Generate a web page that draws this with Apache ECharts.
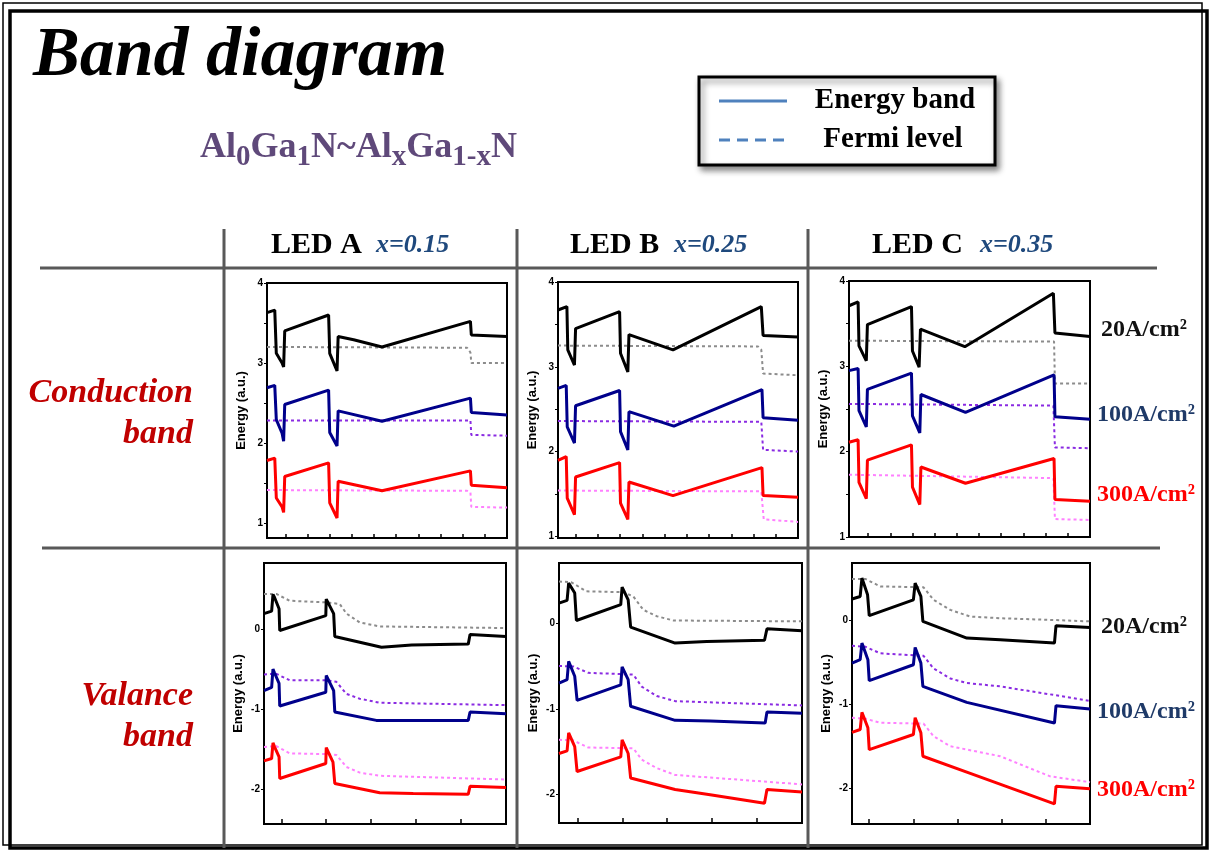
<!DOCTYPE html>
<html>
<head>
<meta charset="utf-8">
<script src="https://cdn.jsdelivr.net/npm/echarts@6/dist/echarts.min.js"></script>
<style>
html,body{margin:0;padding:0;background:#fff;}
#chart{width:1214px;height:850px;}
</style>
</head>
<body>
<div id="chart"></div>
<script>
// ---- labels ----
const ledNames = ['LED A', 'LED B', 'LED C'];
const compositions = ['x=0.15', 'x=0.25', 'x=0.35'];
const currents = ['20A/cm²', '100A/cm²', '300A/cm²'];
const bandRows = [['Conduction', 'band'], ['Valance', 'band']];
const legendNames = ['Energy band', 'Fermi level'];
const alloyParts = [['Al', 0], ['0', 1], ['Ga', 0], ['1', 1], ['N~Al', 0], ['x', 1], ['Ga', 0], ['1-x', 1], ['N', 0]];
const cbTickLabels = [1, 2, 3, 4];
const cbTicks = [1, 1.5, 2, 2.5, 3, 3.5, 4];
const vbTickLabels = [-2, -1, 0];
const vbTicks = [-2, -1, 0];
const xTicksCb = [0, 1, 2, 3, 4, 5, 6, 7, 8, 9, 10];
const xTicksVb = [0, 2, 4, 6, 8, 10];

// ---- conduction band, LED A (position, energy) ----
const ledA_cb_20 = [[-0.83,3.63],[-0.48,3.66],[-0.41,3.12],[-0.15,3.0],[-0.08,2.95],[-0.03,3.40],[1.95,3.60],[2.0,3.12],[2.33,2.90],[2.38,3.33],[3.08,3.29],[4.36,3.20],[8.35,3.52],[8.39,3.35],[10,3.33]];
const ledA_cb_100 = [[-0.83,2.69],[-0.48,2.72],[-0.41,2.29],[-0.15,2.12],[-0.08,2.02],[-0.03,2.48],[1.95,2.66],[2.0,2.13],[2.33,1.96],[2.38,2.40],[4.36,2.27],[8.35,2.56],[8.39,2.38],[10,2.35]];
const ledA_cb_300 = [[-0.83,1.78],[-0.48,1.81],[-0.41,1.31],[-0.15,1.20],[-0.08,1.13],[-0.03,1.58],[1.95,1.75],[2.0,1.25],[2.33,1.06],[2.38,1.52],[4.36,1.40],[8.35,1.65],[8.39,1.47],[10,1.44]];
const ledA_cbF_20 = [[-0.83,3.20],[8.2,3.19],[8.35,3.13],[8.39,3.00],[10,3.00]];
const ledA_cbF_100 = [[-0.83,2.28],[8.35,2.28],[8.39,2.10],[10,2.09]];
const ledA_cbF_300 = [[-0.83,1.41],[8.2,1.40],[8.35,1.38],[8.39,1.20],[10,1.19]];

// ---- conduction band, LED B ----
const ledB_cb_20 = [[-0.79,3.67],[-0.39,3.71],[-0.35,3.20],[-0.05,3.02],[0,3.45],[1.98,3.65],[2.02,3.16],[2.35,2.94],[2.40,3.38],[4.38,3.20],[8.35,3.71],[8.43,3.37],[10,3.35]];
const ledB_cb_100 = [[-0.79,2.745],[-0.42,2.78],[-0.375,2.29],[-0.05,2.10],[0,2.54],[1.98,2.72],[2.02,2.235],[2.35,2.02],[2.40,2.47],[4.42,2.30],[8.38,2.73],[8.43,2.40],[10,2.37]];
const ledB_cb_300 = [[-0.79,1.895],[-0.42,1.94],[-0.375,1.45],[-0.05,1.255],[0,1.70],[1.98,1.87],[2.02,1.39],[2.35,1.20],[2.40,1.64],[4.38,1.48],[8.38,1.81],[8.43,1.48],[10,1.46]];
const ledB_cbF_20 = [[-0.79,3.25],[8.2,3.24],[8.35,3.20],[8.43,2.92],[10,2.90]];
const ledB_cbF_100 = [[-0.79,2.36],[8.35,2.35],[8.43,2.02],[10,2.00]];
const ledB_cbF_300 = [[-0.79,1.54],[8.35,1.53],[8.46,1.20],[10,1.17]];

// ---- conduction band, LED C ----
const ledC_cb_20 = [[-0.86,3.71],[-0.45,3.755],[-0.41,3.24],[-0.08,3.065],[-0.03,3.49],[1.955,3.70],[2.0,3.18],[2.30,2.99],[2.36,3.435],[4.36,3.23],[8.35,3.856],[8.42,3.39],[10,3.35]];
const ledC_cb_100 = [[-0.86,2.95],[-0.45,2.975],[-0.41,2.48],[-0.08,2.29],[-0.03,2.73],[1.955,2.92],[2.0,2.42],[2.33,2.22],[2.38,2.67],[4.39,2.46],[8.38,2.90],[8.42,2.41],[10,2.38]];
const ledC_cb_300 = [[-0.86,2.11],[-0.45,2.14],[-0.41,1.64],[-0.08,1.45],[-0.03,1.90],[1.955,2.08],[2.0,1.585],[2.33,1.38],[2.38,1.82],[4.39,1.63],[8.38,1.92],[8.42,1.44],[10,1.42]];
const ledC_cbF_20 = [[-0.86,3.30],[8.38,3.29],[8.42,2.80],[10,2.80]];
const ledC_cbF_100 = [[-0.86,2.56],[8.35,2.54],[8.42,2.05],[10,2.04]];
const ledC_cbF_300 = [[-0.86,1.73],[8.35,1.69],[8.42,1.21],[10,1.20]];

// ---- valence band, LED A ----
const ledA_vb_20 = [[-0.77,0.19],[-0.43,0.22],[-0.37,0.43],[-0.30,0.39],[-0.10,0.25],[-0.07,-0.02],[1.98,0.165],[2.0,0.37],[2.33,0.19],[2.38,-0.095],[4.46,-0.23],[5.80,-0.20],[8.32,-0.19],[8.40,-0.07],[10,-0.095]];
const ledA_vb_100 = [[-0.77,-0.77],[-0.43,-0.73],[-0.37,-0.50],[-0.30,-0.55],[-0.10,-0.68],[-0.07,-0.96],[1.98,-0.79],[2.0,-0.58],[2.33,-0.77],[2.38,-1.035],[4.23,-1.14],[5.87,-1.14],[8.32,-1.14],[8.40,-1.035],[10,-1.056]];
const ledA_vb_300 = [[-0.77,-1.644],[-0.43,-1.615],[-0.37,-1.42],[-0.30,-1.47],[-0.10,-1.594],[-0.07,-1.863],[1.98,-1.677],[2.0,-1.478],[2.30,-1.66],[2.38,-1.925],[4.38,-2.04],[5.87,-2.05],[8.32,-2.06],[8.40,-1.96],[10,-1.975]];
const ledA_vbF_20 = [[-0.77,0.435],[-0.22,0.435],[0.37,0.35],[2.0,0.33],[2.6,0.31],[2.9,0.19],[3.49,0.08],[4.38,0.03],[10,0.01]];
const ledA_vbF_100 = [[-0.77,-0.567],[-0.22,-0.56],[0.37,-0.64],[2.0,-0.64],[2.45,-0.66],[2.9,-0.81],[3.49,-0.87],[4.38,-0.92],[10,-0.95]];
const ledA_vbF_300 = [[-0.77,-1.47],[-0.22,-1.46],[0.37,-1.55],[2.0,-1.56],[2.45,-1.57],[2.9,-1.72],[3.49,-1.79],[4.38,-1.83],[10,-1.876]];

// ---- valence band, LED B ----
const ledB_vb_20 = [[-0.82,0.233],[-0.46,0.264],[-0.39,0.466],[-0.12,0.35],[-0.045,0.03],[0.03,0.02],[1.93,0.214],[1.99,0.42],[2.26,0.27],[2.37,-0.047],[4.35,-0.233],[5.76,-0.214],[8.33,-0.20],[8.44,-0.066],[10,-0.09]];
const ledB_vb_100 = [[-0.82,-0.70],[-0.46,-0.66],[-0.39,-0.447],[-0.12,-0.62],[-0.015,-0.90],[1.93,-0.72],[1.99,-0.51],[2.26,-0.66],[2.37,-0.97],[4.35,-1.134],[5.91,-1.14],[8.36,-1.165],[8.44,-1.037],[10,-1.05]];
const ledB_vb_300 = [[-0.82,-1.52],[-0.46,-1.49],[-0.39,-1.28],[-0.12,-1.44],[-0.015,-1.73],[1.93,-1.56],[1.99,-1.36],[2.26,-1.52],[2.37,-1.806],[4.35,-1.94],[5.91,-2.0],[8.33,-2.10],[8.44,-1.94],[10,-1.97]];
const ledB_vbF_20 = [[-0.82,0.485],[-0.27,0.475],[0.40,0.37],[2.04,0.36],[2.49,0.31],[2.93,0.155],[3.53,0.08],[4.27,0.03],[10,0.02]];
const ledB_vbF_100 = [[-0.82,-0.50],[-0.19,-0.505],[0.48,-0.58],[2.49,-0.60],[2.86,-0.74],[3.53,-0.85],[4.35,-0.91],[10,-0.96]];
const ledB_vbF_300 = [[-0.82,-1.36],[-0.19,-1.367],[0.48,-1.45],[2.49,-1.46],[2.86,-1.59],[3.53,-1.69],[4.35,-1.77],[10,-1.88]];

// ---- valence band, LED C ----
const ledC_vb_20 = [[-0.78,0.26],[-0.41,0.29],[-0.33,0.51],[-0.075,0.31],[0,0.06],[2.0,0.25],[2.08,0.45],[2.34,0.29],[2.43,-0.008],[4.42,-0.207],[5.93,-0.227],[8.39,-0.267],[8.46,-0.06],[10,-0.08]];
const ledC_vb_100 = [[-0.78,-0.506],[-0.41,-0.466],[-0.33,-0.267],[-0.06,-0.466],[0,-0.717],[2.0,-0.526],[2.08,-0.319],[2.34,-0.506],[2.43,-0.785],[4.42,-0.976],[8.39,-1.223],[8.46,-1.016],[10,-1.056]];
const ledC_vb_300 = [[-0.78,-1.335],[-0.41,-1.30],[-0.33,-1.096],[-0.06,-1.28],[0,-1.54],[2.0,-1.36],[2.08,-1.16],[2.34,-1.34],[2.43,-1.62],[4.42,-1.81],[8.39,-2.19],[8.46,-1.98],[10,-2.01]];
const ledC_vbF_20 = [[-0.78,0.50],[-0.18,0.50],[0.50,0.41],[2.46,0.40],[2.91,0.25],[3.67,0.13],[4.57,0.05],[5.93,0.03],[8.19,0.01],[10,-0.008]];
const ledC_vbF_100 = [[-0.78,-0.30],[-0.18,-0.31],[0.50,-0.39],[2.46,-0.42],[2.91,-0.57],[3.67,-0.69],[4.42,-0.745],[5.93,-0.785],[8.19,-0.88],[10,-0.96]];
const ledC_vbF_300 = [[-0.78,-1.16],[-0.18,-1.17],[0.50,-1.22],[2.46,-1.23],[2.91,-1.38],[3.67,-1.50],[4.42,-1.54],[5.93,-1.62],[8.19,-1.86],[10,-1.93]];

// ---- panel layout: one grid per LED and band ----
const panels = [
  {box: [267, 283, 240, 255], xMin: -0.83, yMin: 0.81, yMax: 4, cb: true,
   bands: [ledA_cb_20, ledA_cb_100, ledA_cb_300], fermi: [ledA_cbF_20, ledA_cbF_100, ledA_cbF_300]},
  {box: [558, 282, 240, 256], xMin: -0.79, yMin: 0.98, yMax: 4, cb: true,
   bands: [ledB_cb_20, ledB_cb_100, ledB_cb_300], fermi: [ledB_cbF_20, ledB_cbF_100, ledB_cbF_300]},
  {box: [849, 281, 241, 256], xMin: -0.86, yMin: 1, yMax: 4, cb: true,
   bands: [ledC_cb_20, ledC_cb_100, ledC_cb_300], fermi: [ledC_cbF_20, ledC_cbF_100, ledC_cbF_300]},
  {box: [264, 563, 242, 261], xMin: -0.77, yMin: -2.43, yMax: 0.82, cb: false,
   bands: [ledA_vb_20, ledA_vb_100, ledA_vb_300], fermi: [ledA_vbF_20, ledA_vbF_100, ledA_vbF_300]},
  {box: [559, 563, 243, 260], xMin: -0.82, yMin: -2.33, yMax: 0.70, cb: false,
   bands: [ledB_vb_20, ledB_vb_100, ledB_vb_300], fermi: [ledB_vbF_20, ledB_vbF_100, ledB_vbF_300]},
  {box: [852, 563, 238, 261], xMin: -0.78, yMin: -2.43, yMax: 0.69, cb: false,
   bands: [ledC_vb_20, ledC_vb_100, ledC_vb_300], fermi: [ledC_vbF_20, ledC_vbF_100, ledC_vbF_300]}
];

const bandColors = ['#000000', '#00008B', '#FF0000'];
const fermiColors = ['#8C8C8C', '#8A2BE2', '#FF80FF'];
const labelColors = ['#111111', '#1F3A68', '#FF0000'];
const SERIF = '"Liberation Serif", "Times New Roman", serif';
const SANS = '"Liberation Sans", Arial, sans-serif';

const grids = [], xAxes = [], yAxes = [], series = [];
panels.forEach((p, i) => {
  grids.push({
    left: p.box[0], top: p.box[1], width: p.box[2], height: p.box[3],
    show: true, borderColor: '#000', borderWidth: 2, backgroundColor: 'transparent'
  });
  xAxes.push({
    type: 'value', gridIndex: i, min: p.xMin, max: 10,
    axisLine: {show: true, onZero: false, lineStyle: {color: '#000', width: 2}},
    axisTick: {show: true, inside: true, length: p.cb ? 4 : 5,
               customValues: p.cb ? xTicksCb : xTicksVb,
               lineStyle: {color: '#000', width: 1.5}},
    axisLabel: {show: false},
    splitLine: {show: false}
  });
  yAxes.push({
    type: 'value', gridIndex: i, min: p.yMin, max: p.yMax,
    name: 'Energy (a.u.)', nameLocation: 'middle', nameGap: 19,
    nameTextStyle: {fontFamily: SANS, fontWeight: 'bold', fontSize: 13, color: '#000'},
    axisLine: {show: true, onZero: false, lineStyle: {color: '#000', width: 2}},
    axisTick: {show: true, length: 3, customValues: p.cb ? cbTicks : vbTicks,
               lineStyle: {color: '#000', width: 1}},
    axisLabel: {fontFamily: SANS, fontWeight: 'bold', fontSize: 10, color: '#000', margin: 4,
                customValues: p.cb ? cbTickLabels : vbTickLabels},
    splitLine: {show: false}
  });
  p.fermi.forEach((d, k) => series.push({
    type: 'line', xAxisIndex: i, yAxisIndex: i, data: d, showSymbol: false, z: 2,
    lineStyle: {color: fermiColors[k], width: 2, type: [3, 3]}
  }));
  p.bands.forEach((d, k) => series.push({
    type: 'line', xAxisIndex: i, yAxisIndex: i, data: d, showSymbol: false, z: 3,
    lineStyle: {color: bandColors[k], width: 3}
  }));
});

// ---- slide decoration: frame, table rules, titles, legend ----
const gfx = [];
gfx.push({type: 'rect', shape: {x: 3, y: 3, width: 1199, height: 842},
          style: {fill: 'none', stroke: '#000', lineWidth: 1.5}, z: 0});
gfx.push({type: 'rect', shape: {x: 10, y: 11, width: 1197, height: 837},
          style: {fill: 'none', stroke: '#000', lineWidth: 3.5}, z: 0});

const rule = {stroke: '#595959', lineWidth: 3};
gfx.push({type: 'line', shape: {x1: 40, y1: 268, x2: 1157, y2: 268}, style: rule});
gfx.push({type: 'line', shape: {x1: 42, y1: 548, x2: 1160, y2: 548}, style: rule});
[224, 517, 808].forEach(x => gfx.push({type: 'line', shape: {x1: x, y1: 229, x2: x, y2: 848}, style: rule}));

gfx.push({type: 'text', style: {text: 'Band diagram', x: 33, y: 57, textVerticalAlign: 'middle',
          font: 'italic bold 70px ' + SERIF, fill: '#000'}});

// alloy formula with subscripts, laid out piece by piece
const mainFont = 'bold 36px ' + SERIF;
const subFont = 'bold 29px ' + SERIF;
const measure = document.createElement('canvas').getContext('2d');
let penX = 200;
alloyParts.forEach(([txt, isSub]) => {
  const font = isSub ? subFont : mainFont;
  measure.font = font;
  gfx.push({type: 'text', style: {text: txt, x: penX, y: isSub ? 158 : 148,
            textVerticalAlign: 'middle', font: font, fill: '#5F497A'}});
  penX += measure.measureText(txt).width;
});

// column headers
const headX = [[271, 376], [570, 674], [872, 980]];
ledNames.forEach((n, i) => {
  gfx.push({type: 'text', style: {text: n, x: headX[i][0], y: 245, textVerticalAlign: 'middle',
            font: 'bold 30px ' + SERIF, fill: '#000'}});
  gfx.push({type: 'text', style: {text: compositions[i], x: headX[i][1], y: 245, textVerticalAlign: 'middle',
            font: 'italic bold 26px ' + SERIF, fill: '#1F497D'}});
});

// row headers
const rowY = [[393, 434], [696, 737]];
bandRows.forEach((r, i) => {
  r.forEach((t, j) => gfx.push({type: 'text', style: {text: t, x: 193, y: rowY[i][j],
    textAlign: 'right', textVerticalAlign: 'middle', font: 'italic bold 34px ' + SERIF, fill: '#C00000'}}));
});

// current-density labels
const curY = [[330, 415, 495], [627, 712, 790]];
curY.forEach(ys => ys.forEach((y, k) => gfx.push({type: 'text', style: {
  text: currents[k], x: k === 0 ? 1101 : 1097, y: y, textVerticalAlign: 'middle',
  font: 'bold 24px ' + SERIF, fill: labelColors[k]}})));

// legend
gfx.push({type: 'rect', shape: {x: 699, y: 77, width: 296, height: 88},
          style: {fill: '#fff', stroke: '#000', lineWidth: 3,
                  shadowBlur: 6, shadowColor: 'rgba(0,0,0,0.45)', shadowOffsetX: 3, shadowOffsetY: 4}});
gfx.push({type: 'line', shape: {x1: 719, y1: 101, x2: 787, y2: 101},
          style: {stroke: '#4F81BD', lineWidth: 3}});
gfx.push({type: 'line', shape: {x1: 719, y1: 140, x2: 787, y2: 140},
          style: {stroke: '#4F81BD', lineWidth: 3, lineDash: [11, 7]}});
gfx.push({type: 'text', style: {text: legendNames[0], x: 895, y: 101, textAlign: 'center',
          textVerticalAlign: 'middle', font: 'bold 29px ' + SERIF, fill: '#000'}});
gfx.push({type: 'text', style: {text: legendNames[1], x: 893, y: 140, textAlign: 'center',
          textVerticalAlign: 'middle', font: 'bold 29px ' + SERIF, fill: '#000'}});

const chart = echarts.init(document.getElementById('chart'), null, {renderer: 'canvas'});
chart.setOption({
  backgroundColor: '#fff',
  animation: false,
  grid: grids,
  xAxis: xAxes,
  yAxis: yAxes,
  series: series,
  graphic: {elements: gfx}
});
</script>
</body>
</html>
